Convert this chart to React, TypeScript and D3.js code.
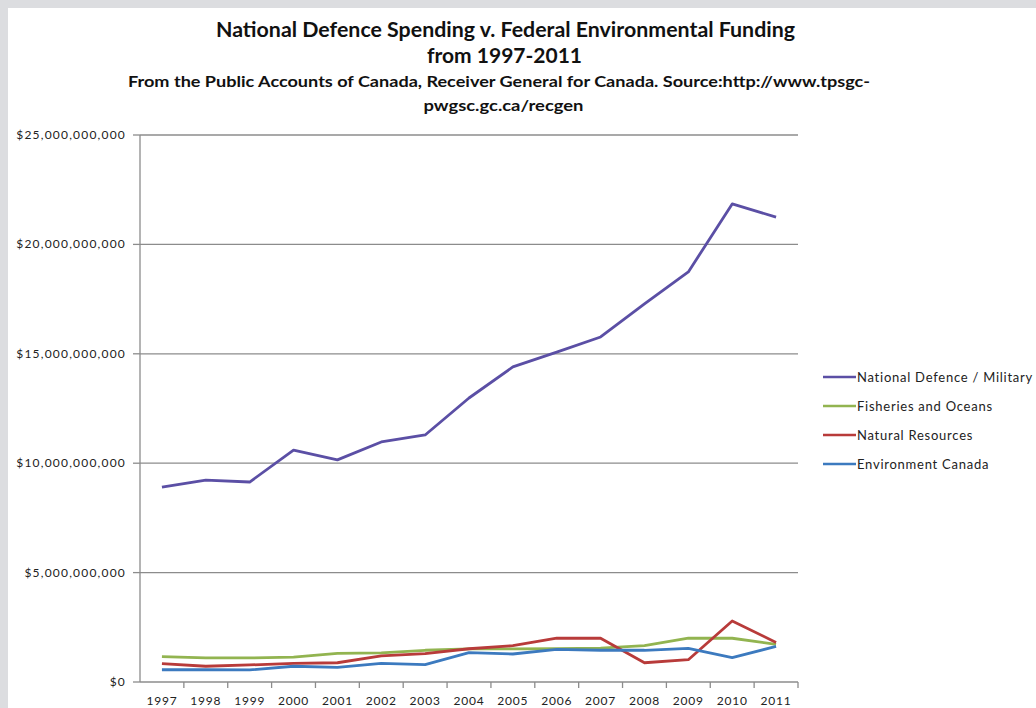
import React from "react";
import * as d3 from "d3";

const years = ["1997","1998","1999","2000","2001","2002","2003","2004","2005","2006","2007","2008","2009","2010","2011"];
const defence = [8.91, 9.23, 9.14, 10.6, 10.15, 10.97, 11.29, 12.98, 14.4, 15.08, 15.77, 17.28, 18.74, 21.85, 21.25];
const fisheries = [1.16, 1.1, 1.1, 1.14, 1.31, 1.33, 1.45, 1.51, 1.51, 1.52, 1.55, 1.66, 2.0, 2.0, 1.72];
const naturalRes = [0.84, 0.72, 0.78, 0.85, 0.88, 1.19, 1.3, 1.52, 1.66, 2.0, 2.0, 0.88, 1.02, 2.79, 1.81];
const environment = [0.56, 0.56, 0.55, 0.72, 0.67, 0.85, 0.79, 1.34, 1.28, 1.49, 1.45, 1.45, 1.54, 1.11, 1.63];
const yTicks = [0, 5, 10, 15, 20, 25];
const seriesNames = ["National Defence / Military", "Fisheries and Oceans", "Natural Resources", "Environment Canada"];
const seriesColors = ["#5b4fa5", "#92b450", "#b83b3a", "#3c7abf"];
const titleLines = ["National Defence Spending v. Federal Environmental Funding", "from 1997-2011"];
const subtitleLines = ["From the Public Accounts of Canada, Receiver General for Canada. Source:http://www.tpsgc-", "pwgsc.gc.ca/recgen"];

export default function App() {
  const W = 1036, H = 708;
  const left = 140, right = 798, top = 135, bottom = 682;
  const x = d3.scaleBand<string>().domain(years).range([left, right]);
  const y = d3.scaleLinear().domain([0, 25]).range([bottom, top]);
  const line = d3.line<number>().x((_, i) => (x(years[i]) as number) + x.bandwidth() / 2).y(d => y(d));
  const all = [defence, fisheries, naturalRes, environment];
  const fmt = (v: number) => "$" + d3.format(",")(v * 1e9);
  const font = "Lato, 'Open Sans', sans-serif";
  const drawOrder = [1, 2, 3, 0];
  const axisColor = "#8c8c8c";
  return (
    <svg width={W} height={H} style={{ position: "absolute", left: 0, top: 0 }} fontFamily={font}>
      <rect x={0} y={0} width={W} height={H} fill="#dcdde0" />
      <rect x={8} y={8} width={W - 8} height={H - 8} fill="#ffffff" />
      <g fontWeight="bold" textAnchor="middle" fill="#111">
        <text x={505.5} y={37} fontSize={20} textLength={579} lengthAdjust="spacingAndGlyphs">{titleLines[0]}</text>
        <text x={504.5} y={63} fontSize={20} textLength={155} lengthAdjust="spacingAndGlyphs">{titleLines[1]}</text>
        <text x={499} y={87} fontSize={14.5} textLength={742} lengthAdjust="spacingAndGlyphs">{subtitleLines[0]}</text>
        <text x={503.5} y={110.5} fontSize={14.5} textLength={160} lengthAdjust="spacingAndGlyphs">{subtitleLines[1]}</text>
      </g>
      {yTicks.map(t => (
        <g key={t}>
          {t > 0 && <line x1={left} x2={right} y1={y(t)} y2={y(t)} stroke={axisColor} strokeWidth={1.3} />}
          <line x1={left - 7} x2={left} y1={y(t)} y2={y(t)} stroke={axisColor} strokeWidth={1.3} />
          <text x={left - 14} y={y(t) + 4} fontSize={12} letterSpacing={1.2} textAnchor="end" fill="#222">{fmt(t)}</text>
        </g>
      ))}
      <line x1={left} x2={left} y1={top} y2={bottom} stroke={axisColor} strokeWidth={1.3} />
      <line x1={left} x2={right} y1={bottom} y2={bottom} stroke={axisColor} strokeWidth={1.3} />
      {years.map(yr => (
        <g key={yr}>
          <line x1={(x(yr) as number) + x.bandwidth()} x2={(x(yr) as number) + x.bandwidth()} y1={bottom} y2={bottom + 6} stroke={axisColor} strokeWidth={1.3} />
          <text x={(x(yr) as number) + x.bandwidth() / 2} y={705} fontSize={12} letterSpacing={0.8} textAnchor="middle" fill="#222">{yr}</text>
        </g>
      ))}
      {drawOrder.map(k => (
        <path key={k} d={line(all[k]) || ""} fill="none" stroke={seriesColors[k]} strokeWidth={2.8} strokeLinejoin="round" />
      ))}
      {seriesNames.map((n, i) => (
        <g key={n}>
          <line x1={823} x2={856} y1={377 + i * 29} y2={377 + i * 29} stroke={seriesColors[i]} strokeWidth={2.6} />
          <text x={857} y={381.5 + i * 29} fontSize={13} fill="#222" letterSpacing={0.75}>{n}</text>
        </g>
      ))}
    </svg>
  );
}
